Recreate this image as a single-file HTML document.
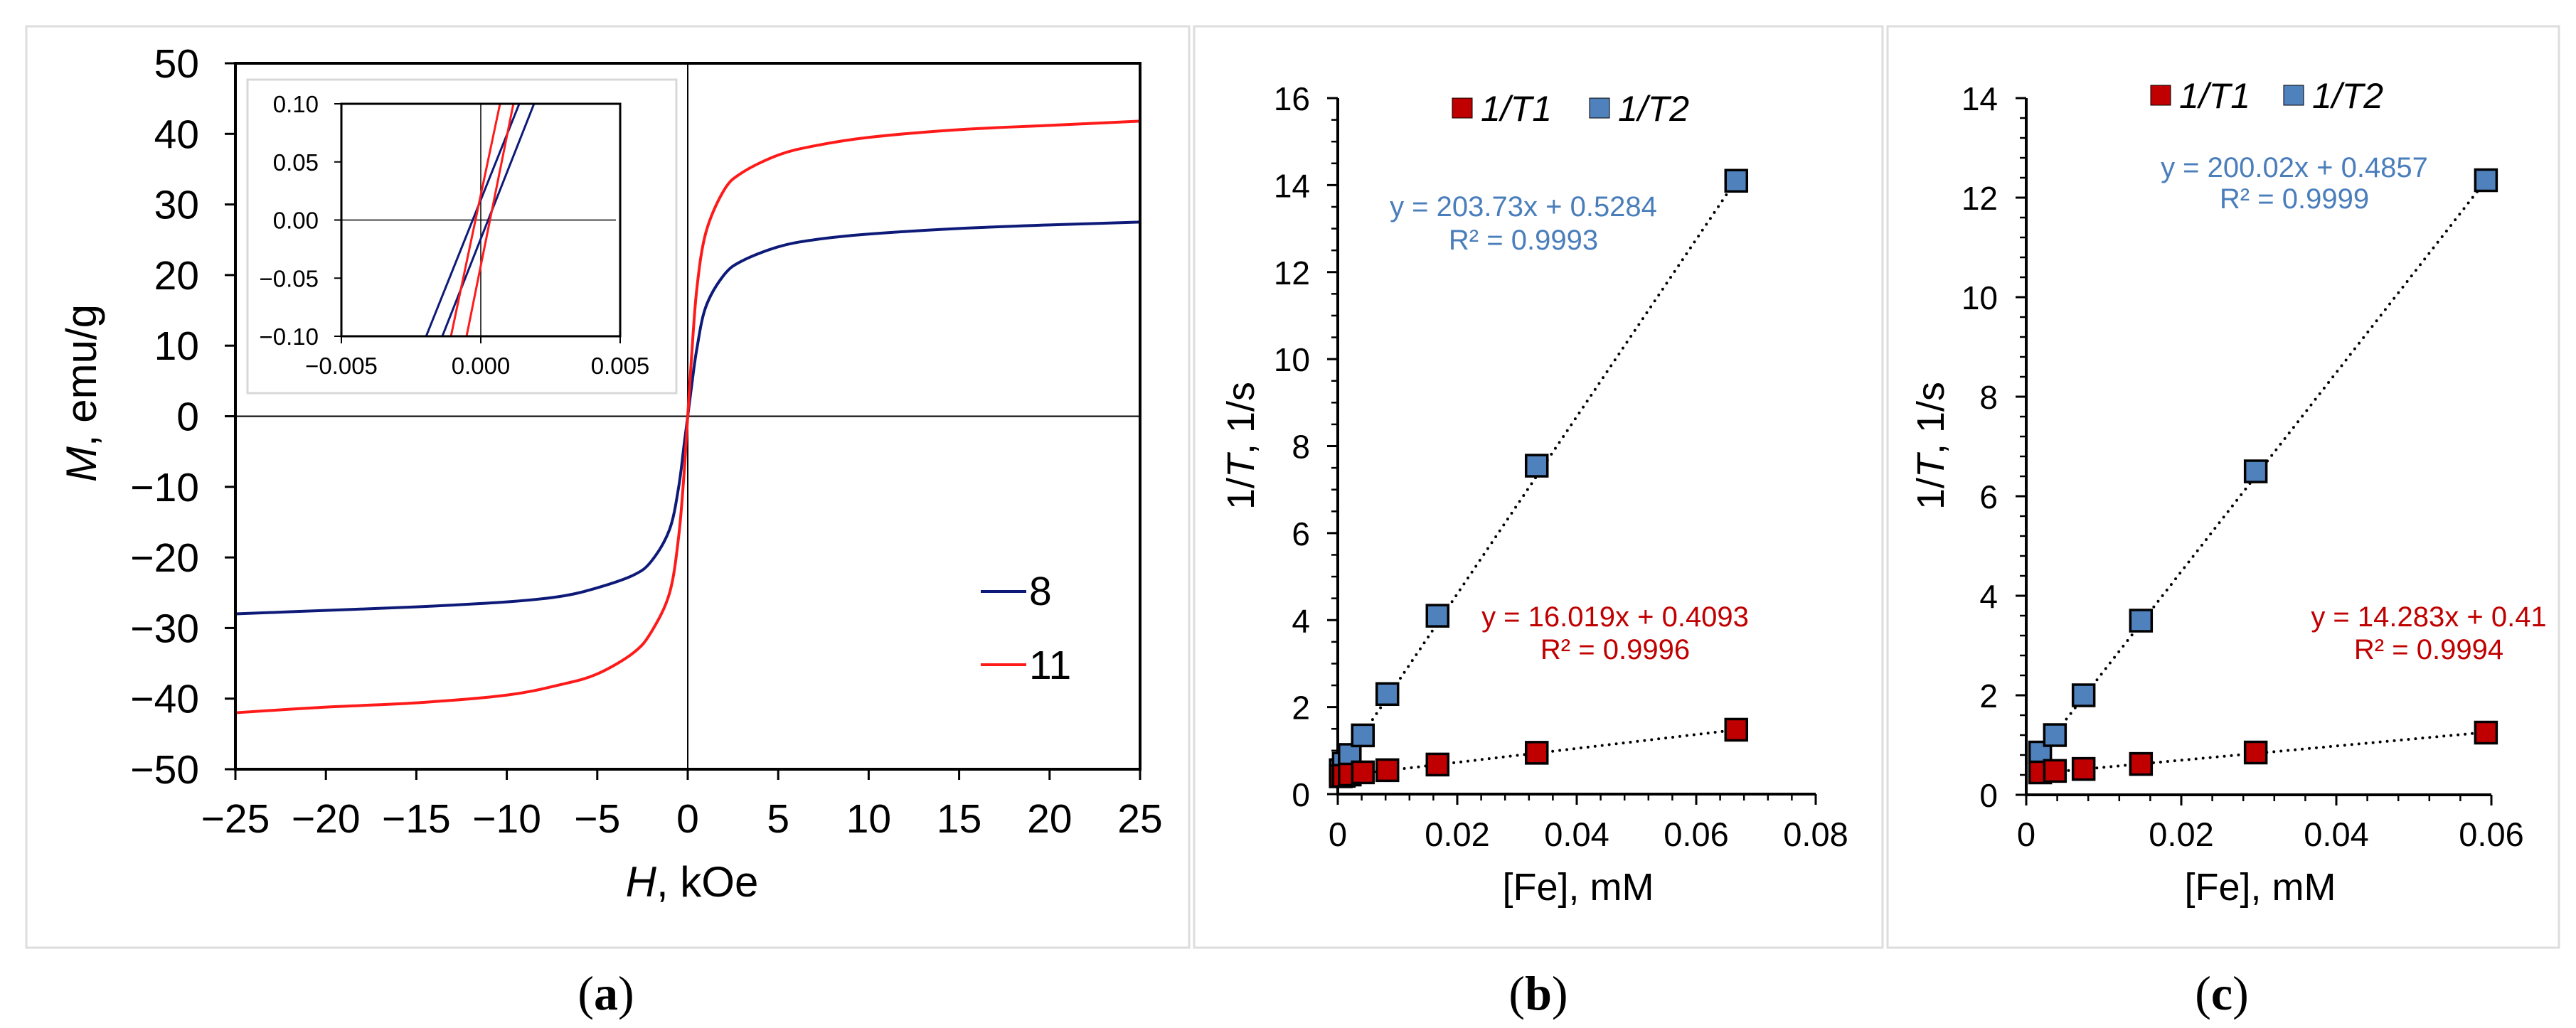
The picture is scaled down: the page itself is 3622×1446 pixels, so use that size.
<!DOCTYPE html>
<html><head><meta charset="utf-8"><style>
html,body{margin:0;padding:0;background:#fff;}
svg{display:block;font-family:"Liberation Sans",Arial,sans-serif;}
</style></head><body>
<svg id="fig" width="3622" height="1446" viewBox="0 0 3622 1446" xmlns="http://www.w3.org/2000/svg">
<rect x="0" y="0" width="3622" height="1446" fill="#fff"/>
<rect x="37" y="37" width="1635" height="1296" fill="none" stroke="#ddd" stroke-width="3"/>
<rect x="1679" y="37" width="968" height="1296" fill="none" stroke="#ddd" stroke-width="3"/>
<rect x="2654" y="37" width="944" height="1296" fill="none" stroke="#ddd" stroke-width="3"/>
<g id="a"></g><g id="b"></g><g id="c"></g>
<text x="852" y="1420" font-family="Liberation Serif,serif" font-size="68" text-anchor="middle">(<tspan font-weight="bold">a</tspan>)</text>
<text x="2163" y="1420" font-family="Liberation Serif,serif" font-size="68" text-anchor="middle">(<tspan font-weight="bold">b</tspan>)</text>
<text x="3124" y="1420" font-family="Liberation Serif,serif" font-size="68" text-anchor="middle">(<tspan font-weight="bold">c</tspan>)</text>
</svg>
<script>
// ---- Panel (a) data ----
const hField = [-25,-20,-15,-10,-7,-5,-3,-2,-1,-0.5,-0.2,0,0.2,0.5,1,2,3,5,7,10,15,20,25];
const mSample8 = [-28,-27.5,-27,-26.3,-25.5,-24.3,-22.5,-20.5,-16,-10,-4,0,4,9.5,15.5,20,22,24,25,25.8,26.6,27.1,27.5];
const mSample11 = [-42,-41.2,-40.6,-39.5,-38,-36.5,-33.5,-30.5,-25,-17,-8,0,8,18,26,32,34.5,37,38.3,39.5,40.6,41.2,41.8];
const aXTicks = [-25,-20,-15,-10,-5,0,5,10,15,20,25];
const aYTicks = [-50,-40,-30,-20,-10,0,10,20,30,40,50];
// inset loops: [H at M=-0.1, H at M=+0.1]
const insetBlue1 = [-0.00196,0.00138];
const insetBlue2 = [-0.00138,0.00191];
const insetRed1 = [-0.00107,0.00069];
const insetRed2 = [-0.00051,0.00117];
const insetXTicks = [-0.005,0.000,0.005];
const insetYTicks = [-0.10,-0.05,0.00,0.05,0.10];
// ---- Panel (b) data ----
const bConc = [0.0005,0.001,0.002,0.0042,0.0083,0.0167,0.0333,0.0667];
const bR1 = [0.41,0.42,0.45,0.5,0.55,0.68,0.95,1.48];
const bR2 = [0.55,0.7,0.9,1.35,2.3,4.1,7.55,14.1];
const bFit1 = [16.019,0.4093];
const bFit2 = [203.73,0.5284];
const bYTicks = [0,2,4,6,8,10,12,14,16];
const bXTicks = [0,0.02,0.04,0.06,0.08];
// ---- Panel (c) data ----
const cConc = [0.0018,0.0037,0.0074,0.0148,0.0296,0.0593];
const cR1 = [0.45,0.48,0.52,0.62,0.85,1.25];
const cR2 = [0.85,1.2,2.0,3.5,6.5,12.35];
const cFit1 = [14.283,0.41];
const cFit2 = [200.02,0.4857];
const cYTicks = [0,2,4,6,8,10,12,14];
const cXTicks = [0,0.02,0.04,0.06];

const NS="http://www.w3.org/2000/svg";
function mk(parent,tag,attrs,text){const e=document.createElementNS(NS,tag);for(const k in attrs)e.setAttribute(k,attrs[k]);if(text!==undefined)e.textContent=text;parent.appendChild(e);return e;}
function lin(d0,d1,r0,r1){return v=>r0+(v-d0)/(d1-d0)*(r1-r0);}
function fmtMinus(s){return String(s).replace('-','\u2212');}
function smooth(pts){let d='M'+pts[0][0]+','+pts[0][1];for(let i=0;i<pts.length-1;i++){const p0=pts[i-1]||pts[i],p1=pts[i],p2=pts[i+1],p3=pts[i+2]||p2;d+=' C'+(p1[0]+(p2[0]-p0[0])/6)+','+(p1[1]+(p2[1]-p0[1])/6)+' '+(p2[0]-(p3[0]-p1[0])/6)+','+(p2[1]-(p3[1]-p1[1])/6)+' '+p2[0]+','+p2[1];}return d;}

// ===== Panel a =====
(function(){
const g=document.getElementById('a');
const PT=89, PB=1082;
const X=lin(-25,25,331,1603), Y=lin(-50,50,PB,PT);
let e;
e=mk(g,'line',{x1:331,y1:Y(0),x2:1603,y2:Y(0),stroke:'#000','stroke-width':2});


e=mk(g,'line',{x1:X(0),y1:PT,x2:X(0),y2:PB,stroke:'#000','stroke-width':2});


aYTicks.forEach(v=>{mk(g,'line',{x1:316,y1:Y(v),x2:331,y2:Y(v),stroke:'#000','stroke-width':3});
 e=mk(g,'text',{x:280,y:Y(v)+20,'font-size':57,'text-anchor':'end'},fmtMinus(v));
 
 });
aXTicks.forEach(v=>{mk(g,'line',{x1:X(v),y1:PB,x2:X(v),y2:PB+15,stroke:'#000','stroke-width':3});
 e=mk(g,'text',{x:X(v),y:1171,'font-size':57,'text-anchor':'middle'},fmtMinus(v));
 
 });
e=mk(g,'path',{d:smooth(hField.map((h,i)=>[X(h),Y(mSample8[i])])),fill:'none',stroke:'#0d1a78','stroke-width':4});


e=mk(g,'path',{d:smooth(hField.map((h,i)=>[X(h),Y(mSample11[i])])),fill:'none',stroke:'#ff1a1a','stroke-width':4});


e=mk(g,'rect',{x:331,y:PT,width:1272,height:PB-PT,fill:'none',stroke:'#000','stroke-width':4});


e=mk(g,'text',{x:0,y:0,'font-size':60,'text-anchor':'middle',transform:'translate(135,553) rotate(-90)'});


mk(e,'tspan',{'font-style':'italic'},'M');mk(e,'tspan',{},', emu/g');
e=mk(g,'text',{x:973,y:1261,'font-size':60,'text-anchor':'middle'});


mk(e,'tspan',{'font-style':'italic'},'H');mk(e,'tspan',{},', kOe');
// legend
e=mk(g,'line',{x1:1379,y1:832,x2:1443,y2:832,stroke:'#0d1a78','stroke-width':4});


e=mk(g,'text',{x:1447,y:851,'font-size':57},'8');


e=mk(g,'line',{x1:1379,y1:935,x2:1443,y2:935,stroke:'#ff1a1a','stroke-width':4});


e=mk(g,'text',{x:1447,y:955,'font-size':57},'11');


// inset
e=mk(g,'rect',{x:348,y:112,width:603,height:441,fill:'#fff',stroke:'#d8d8d8','stroke-width':3});


const IT=146, IB=473;
const IX=lin(-0.005,0.005,480,872), IY=lin(-0.1,0.1,IB,IT);
mk(g,'line',{x1:480,y1:IY(0),x2:866,y2:IY(0),stroke:'#000','stroke-width':1.5});
mk(g,'line',{x1:IX(0),y1:IT,x2:IX(0),y2:IB,stroke:'#000','stroke-width':1.5});
insetYTicks.forEach(v=>{mk(g,'line',{x1:470,y1:IY(v),x2:480,y2:IY(v),stroke:'#000','stroke-width':2});
 e=mk(g,'text',{x:448,y:IY(v)+12,'font-size':33,'text-anchor':'end'},fmtMinus(v.toFixed(2)));
 
 });
insetXTicks.forEach(v=>{mk(g,'line',{x1:IX(v),y1:IB,x2:IX(v),y2:IB+10,stroke:'#000','stroke-width':2});
 e=mk(g,'text',{x:IX(v),y:526,'font-size':33,'text-anchor':'middle'},fmtMinus(v.toFixed(3)));
 
 });
[[insetBlue1,'#0d1a78'],[insetBlue2,'#0d1a78'],[insetRed1,'#ff1a1a'],[insetRed2,'#ff1a1a']].forEach(([s,c],i)=>{
 e=mk(g,'line',{x1:IX(s[0]),y1:IY(-0.1),x2:IX(s[1]),y2:IY(0.1),stroke:c,'stroke-width':3});
 
 });
e=mk(g,'path',{d:`M480,${IT} H872 V${IB} H480 Z`,fill:'none',stroke:'#000','stroke-width':3});


})();

// ===== Panels b & c =====
function relax(id,o){
const g=document.getElementById(id);
const X=lin(0,o.xmax,o.x0,o.x1), Y=lin(0,o.ymax,o.y0,o.y1);
let e;
for(let v=0;v<=o.ymax+1e-9;v+=o.yminor){mk(g,'line',{x1:o.x0-9,y1:Y(v),x2:o.x0,y2:Y(v),stroke:'#000','stroke-width':2.5});}
for(let v=0;v<=o.xmax+1e-9;v+=o.xminor){mk(g,'line',{x1:X(v),y1:o.y0,x2:X(v),y2:o.y0+9,stroke:'#000','stroke-width':2.5});}
o.yt.forEach(v=>{mk(g,'line',{x1:o.x0-15,y1:Y(v),x2:o.x0,y2:Y(v),stroke:'#000','stroke-width':3});
 e=mk(g,'text',{x:o.ylx,y:Y(v)+17,'font-size':46,'text-anchor':'end'},String(v));
 
 });
o.xt.forEach(v=>{mk(g,'line',{x1:X(v),y1:o.y0,x2:X(v),y2:o.y0+15,stroke:'#000','stroke-width':3});
 e=mk(g,'text',{x:X(v),y:1190,'font-size':47,'text-anchor':'middle'},String(v));
 
 });
e=mk(g,'path',{d:`M${o.x0},${o.y1} V${o.y0} H${o.x1}`,fill:'none',stroke:'#000','stroke-width':4});


const xs=o.conc, xa=xs[0], xb=xs[xs.length-1];
e=mk(g,'line',{x1:X(xa),y1:Y(o.f1[0]*xa+o.f1[1]),x2:X(xb),y2:Y(o.f1[0]*xb+o.f1[1]),stroke:'#000','stroke-width':4,'stroke-dasharray':'0 10','stroke-linecap':'round'});


e=mk(g,'line',{x1:X(xa),y1:Y(o.f2[0]*xa+o.f2[1]),x2:X(xb),y2:Y(o.f2[0]*xb+o.f2[1]),stroke:'#000','stroke-width':4,'stroke-dasharray':'0 10','stroke-linecap':'round'});


const s=30;
o.r2.forEach((v,i)=>{e=mk(g,'rect',{x:X(xs[i])-s/2,y:Y(v)-s/2,width:s,height:s,fill:'#4f81bd',stroke:'#000','stroke-width':3.5});
 
 });
o.r1.forEach((v,i)=>{e=mk(g,'rect',{x:X(xs[i])-s/2,y:Y(v)-s/2,width:s,height:s,fill:'#c00000',stroke:'#000','stroke-width':3.5});
 
 });
// legend
e=mk(g,'rect',{x:o.lg[0]-14,y:o.lg[1]-14,width:28,height:28,fill:'#c00000',stroke:'#000','stroke-width':1});


e=mk(g,'text',{x:o.lg[0]+26,y:o.lg[1]+18,'font-size':50,'font-style':'italic'},'1/T1');


e=mk(g,'rect',{x:o.lg[2]-14,y:o.lg[1]-14,width:28,height:28,fill:'#4f81bd',stroke:'#000','stroke-width':1});


e=mk(g,'text',{x:o.lg[2]+26,y:o.lg[1]+18,'font-size':50,'font-style':'italic'},'1/T2');


// equations
e=mk(g,'text',{x:o.e2[0],y:o.e2[1]+14,'font-size':40,'text-anchor':'middle',fill:'#4a7ebb'},o.e2t[0]);


e=mk(g,'text',{x:o.e2[0],y:o.e2[2]+14,'font-size':40,'text-anchor':'middle',fill:'#4a7ebb'},o.e2t[1]);


e=mk(g,'text',{x:o.e1[0],y:o.e1[1]+14,'font-size':40,'text-anchor':'middle',fill:'#c00000'},o.e1t[0]);


e=mk(g,'text',{x:o.e1[0],y:o.e1[2]+14,'font-size':40,'text-anchor':'middle',fill:'#c00000'},o.e1t[1]);


// titles
e=mk(g,'text',{x:0,y:0,'font-size':54,'text-anchor':'middle',transform:`translate(${o.yt_x},627) rotate(-90)`});


mk(e,'tspan',{},'1/');mk(e,'tspan',{'font-style':'italic'},'T');mk(e,'tspan',{},', 1/s');
e=mk(g,'text',{x:o.xt_x,y:1266,'font-size':54,'text-anchor':'middle'},'[Fe], mM');


}
relax('b',{x0:1881,x1:2553,xmax:0.08,y0:1117,y1:138,ymax:16,yminor:0.5,xminor:0.004,yt:bYTicks,xt:bXTicks,ylx:1842,
 conc:bConc,r1:bR1,r2:bR2,f1:bFit1,f2:bFit2,lg:[2056,152,2249],
 e2:[2142,290,337],e2t:['y = 203.73x + 0.5284','R² = 0.9993'],e1:[2271,867,913],e1t:['y = 16.019x + 0.4093','R² = 0.9996'],yt_x:1763,xt_x:2219});
relax('c',{x0:2849,x1:3503,xmax:0.06,y0:1118,y1:138,ymax:14,yminor:0.4,xminor:0.004,yt:cYTicks,xt:cXTicks,ylx:2809,
 conc:cConc,r1:cR1,r2:cR2,f1:cFit1,f2:cFit2,lg:[3038,134,3225],
 e2:[3226,235,279],e2t:['y = 200.02x + 0.4857','R² = 0.9999'],e1:[3415,867,913],e1t:['y = 14.283x + 0.41','R² = 0.9994'],yt_x:2733,xt_x:3178});
</script>
</body></html>
